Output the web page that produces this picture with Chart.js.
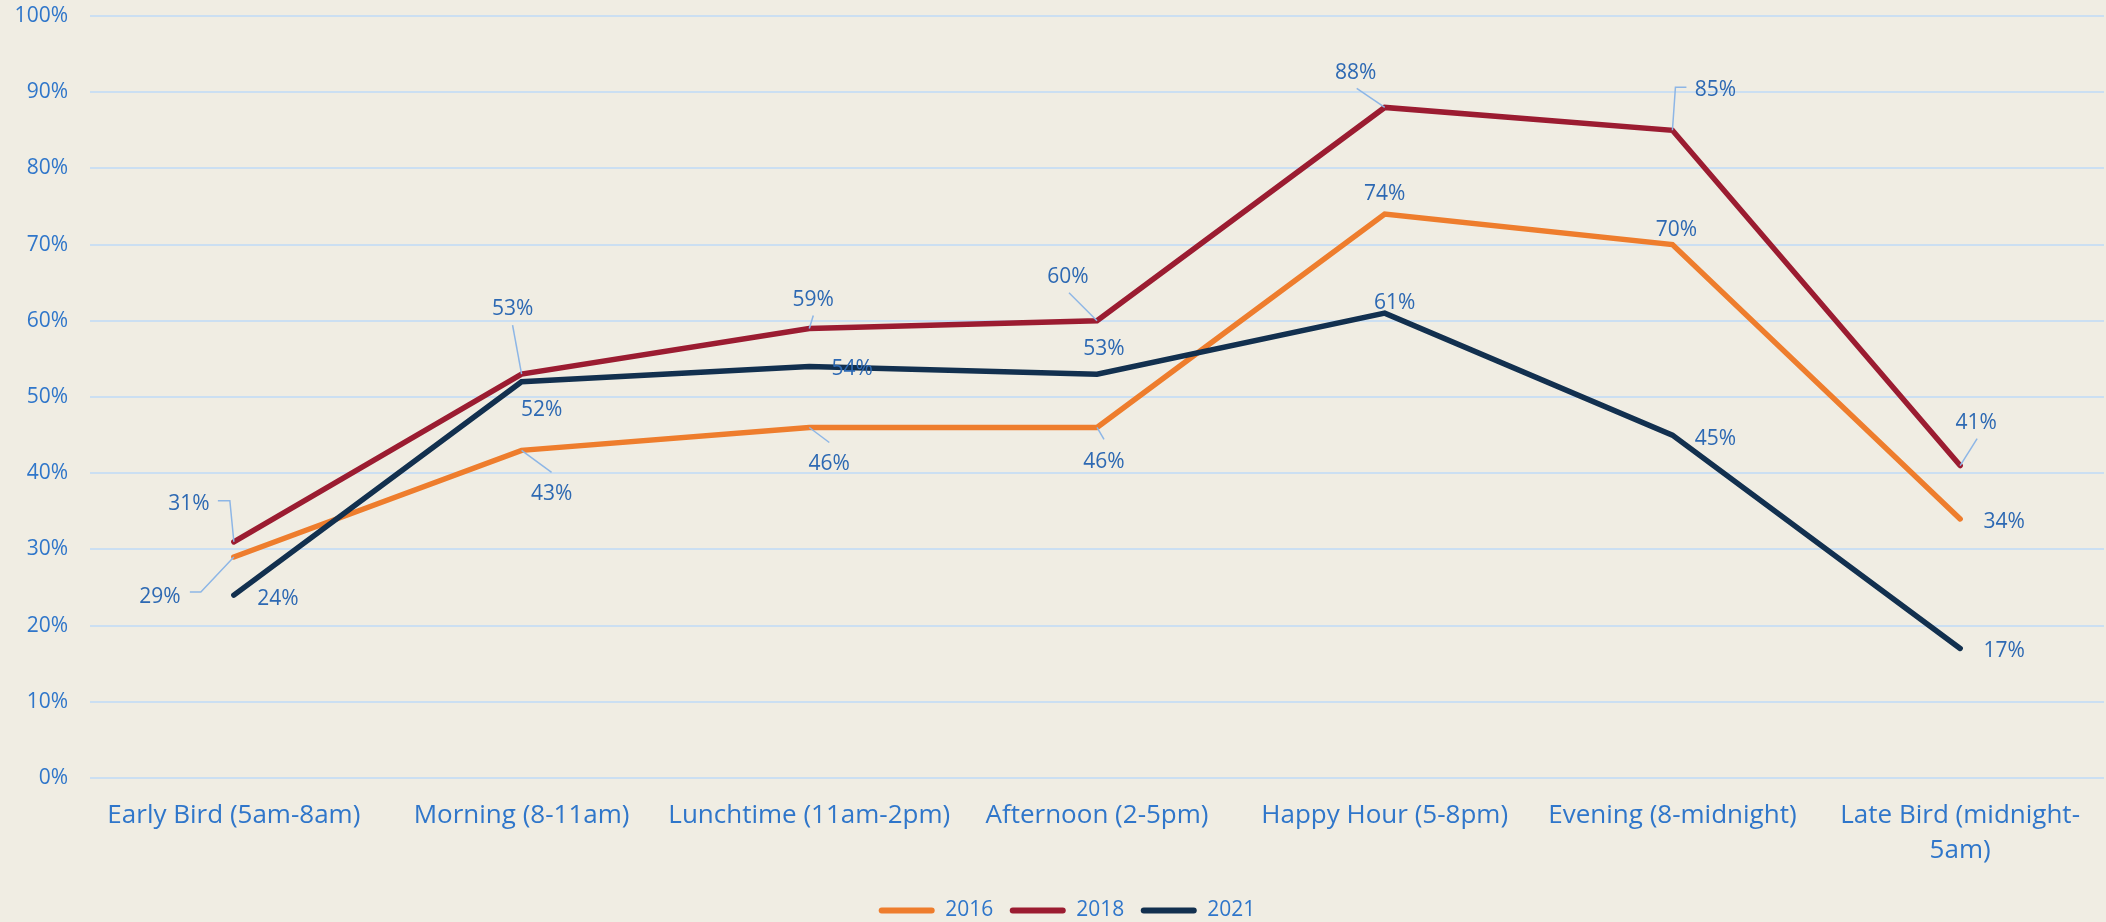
<!DOCTYPE html>
<html>
<head>
<meta charset="utf-8">
<title>Daypart share by year</title>
<style>
  html, body { margin: 0; padding: 0; background: #F0EDE3; overflow: hidden; }
  #wrap { position: relative; width: 2106px; height: 922px; }
  canvas { display: block; }
</style>
<script src="https://cdn.jsdelivr.net/npm/chart.js@4.4.1/dist/chart.umd.min.js"></script>
</head>
<body>
<div id="wrap"><canvas id="chart" width="2106" height="922"></canvas></div>
<script>
// Dayparts along the x axis
const categories = [
  'Early Bird (5am-8am)',
  'Morning (8-11am)',
  'Lunchtime (11am-2pm)',
  'Afternoon (2-5pm)',
  'Happy Hour (5-8pm)',
  'Evening (8-midnight)',
  ['Late Bird (midnight-', '5am)']
];

// Series names
const seriesNames = ['2016', '2018', '2021'];

// Percent values per daypart
const values2016 = [29, 43, 46, 46, 74, 70, 34];
const values2018 = [31, 53, 59, 60, 88, 85, 41];
const values2021 = [24, 52, 54, 53, 61, 45, 17];

// Y axis ticks (percent)
const yTickValues = [0, 10, 20, 30, 40, 50, 60, 70, 80, 90, 100];

// Series colours
const seriesColors = ['#EE7D2D', '#9B1C31', '#12304F'];

// Value label placement: offset of the label centre from its point,
// plus an optional leader polyline (offsets from the point).
const labelPlacement = [
  [ // 2016
    { dx: -74, dy: 38, leader: [[0, 0], [-33, 35], [-44, 35]] },
    { dx: 30, dy: 42, leader: [[0, 0], [30, 22]] },
    { dx: 20, dy: 35, leader: [[0, 0], [20, 15]] },
    { dx: 7, dy: 33, leader: [[0, 0], [7, 12]] },
    { dx: 0, dy: -22 },
    { dx: 4, dy: -16 },
    { dx: 44, dy: 2 }
  ],
  [ // 2018
    { dx: -45, dy: -39, leader: [[0, 0], [-4, -41], [-16, -41]] },
    { dx: -9, dy: -67, leader: [[0, 0], [-9, -49]] },
    { dx: 4, dy: -30, leader: [[0, 0], [4, -13]] },
    { dx: -29, dy: -45, leader: [[0, 0], [-28, -28]] },
    { dx: -29, dy: -36, leader: [[0, 0], [-28, -19]] },
    { dx: 43, dy: -42, leader: [[0, 0], [3, -43], [14, -43]] },
    { dx: 16, dy: -44, leader: [[0, 0], [17, -27]] }
  ],
  [ // 2021
    { dx: 44, dy: 2 },
    { dx: 20, dy: 27 },
    { dx: 43, dy: 1 },
    { dx: 7, dy: -27 },
    { dx: 10, dy: -12 },
    { dx: 43, dy: 2 },
    { dx: 44, dy: 1 }
  ]
];

const FONT = "'Open Sans', 'Noto Sans', sans-serif";
const AXIS_TEXT = '#2F76CA';
const VALUE_TEXT = '#2D69B3';
const LEADER = '#8DB6E6';
const GRID = '#CBDFF2';

// Draws the value labels and their leader lines over the series
const valueLabels = {
  id: 'valueLabels',
  afterDatasetsDraw(chart) {
    const ctx = chart.ctx;
    const size = 21;
    ctx.save();
    ctx.font = size + 'px ' + FONT;
    ctx.textAlign = 'center';
    ctx.textBaseline = 'alphabetic';
    chart.data.datasets.forEach((ds, di) => {
      const meta = chart.getDatasetMeta(di);
      if (meta.hidden) return;
      meta.data.forEach((pt, i) => {
        const p = labelPlacement[di][i];
        if (!p) return;
        if (p.leader) {
          ctx.beginPath();
          p.leader.forEach(([lx, ly], k) => {
            if (k === 0) ctx.moveTo(pt.x + lx, pt.y + ly);
            else ctx.lineTo(pt.x + lx, pt.y + ly);
          });
          ctx.strokeStyle = LEADER;
          ctx.lineWidth = 1.5;
          ctx.stroke();
        }
        ctx.fillStyle = VALUE_TEXT;
        ctx.fillText(ds.data[i] + '%', pt.x + p.dx, pt.y + p.dy + size * 0.357);
      });
    });
    ctx.restore();
  }
};

const seriesValues = [values2016, values2018, values2021];

const datasets = seriesNames.map((name, i) => ({
  label: name,
  data: seriesValues[i],
  borderColor: seriesColors[i],
  backgroundColor: seriesColors[i],
  borderWidth: 5.5,
  borderCapStyle: 'round',
  borderJoinStyle: 'miter',
  pointRadius: 0,
  pointHoverRadius: 0,
  tension: 0,
  fill: false,
  order: seriesNames.length - 1 - i
}));

new Chart(document.getElementById('chart'), {
  type: 'line',
  data: { labels: categories, datasets },
  options: {
    responsive: false,
    animation: false,
    devicePixelRatio: 1,
    layout: { padding: { top: 16, right: 2, left: 30, bottom: -9 } },
    plugins: {
      tooltip: { enabled: false },
      legend: {
        position: 'bottom',
        labels: {
          boxWidth: 56,
          boxHeight: 6,
          useBorderRadius: true,
          borderRadius: 3,
          padding: 16.5,
          color: AXIS_TEXT,
          font: { family: FONT, size: 21 },
          generateLabels(chart) {
            const items = Chart.defaults.plugins.legend.labels.generateLabels(chart);
            items.forEach(it => { it.lineWidth = 0; it.strokeStyle = 'rgba(0,0,0,0)'; });
            return items;
          },
          sort: (a, b) => a.datasetIndex - b.datasetIndex
        }
      }
    },
    scales: {
      x: {
        type: 'category',
        offset: true,
        grid: { display: false, drawTicks: false },
        border: { display: false },
        ticks: {
          color: AXIS_TEXT,
          font: { family: FONT, size: 26, lineHeight: 1.35 },
          padding: 20,
          maxRotation: 0,
          autoSkip: false
        },
        afterFit(scale) { scale.height = 105.5; }
      },
      y: {
        min: 0,
        max: 100,
        afterBuildTicks(scale) { scale.ticks = yTickValues.map(v => ({ value: v })); },
        grid: { color: GRID, lineWidth: 2, drawTicks: false },
        border: { display: false },
        ticks: {
          color: AXIS_TEXT,
          font: { family: FONT, size: 21 },
          padding: 22,
          callback: v => v + '%'
        },
        afterFit(scale) {
          scale.width = 60;
          scale.paddingTop = 12;
          scale.paddingBottom = 12;
          // tick labels may extend past the narrow axis box into the left margin
          scale._computeLabelArea = () => undefined;
        }
      }
    }
  },
  plugins: [valueLabels]
});
</script>
</body>
</html>
